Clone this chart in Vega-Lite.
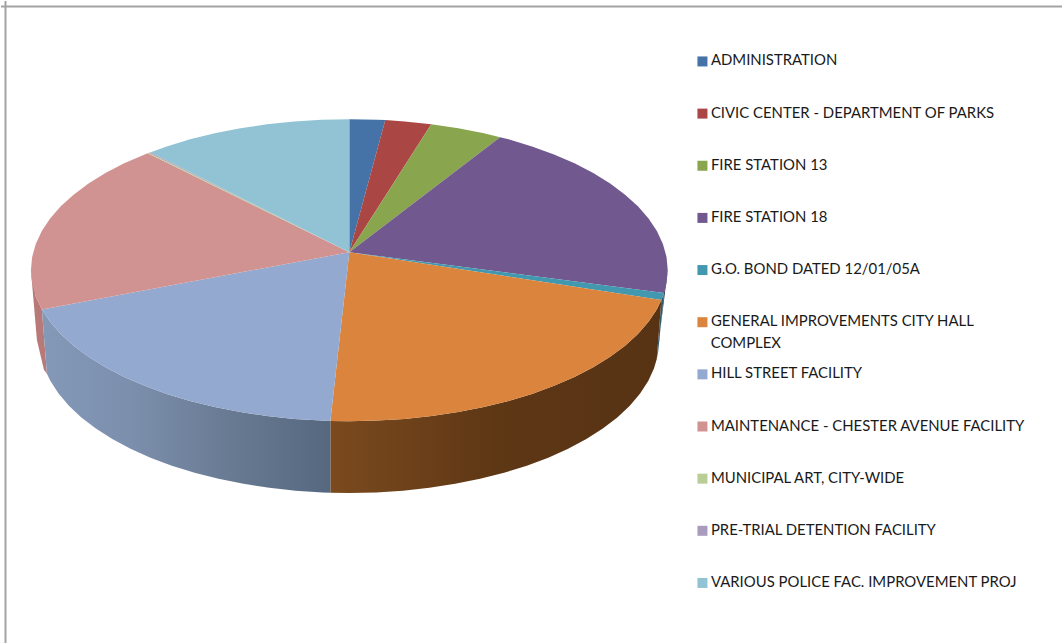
{"$schema":"https://vega.github.io/schema/vega-lite/v6.json","width":1063,"height":644,"autosize":{"type":"fit","contains":"padding"},"padding":0,"background":"white","config":{"view":{"stroke":null},"font":"Lato"},
"layer":[
{"data":{"values":[{"frame":-1.0799}]},"mark":{"type":"rule","color":"#a3a3a3","strokeWidth":2},"encoding":{"x":{"field":"frame","type":"quantitative","axis":null,"scale":{"domain":[-1.094,2.2382],"nice":false,"zero":false}}}},
{"data":{"values":[{"frame":1.7459}]},"mark":{"type":"rule","color":"#a3a3a3","strokeWidth":2},"encoding":{"y":{"field":"frame","type":"quantitative","axis":null,"scale":{"domain":[-2.4686,1.7822],"nice":false,"zero":false}}}},
{"encoding":{"x":{"field":"x","type":"quantitative","axis":null,"scale":{"domain":[-1.094,2.2382],"nice":false,"zero":false}},"y":{"field":"y","type":"quantitative","axis":null,"scale":{"domain":[-2.4686,1.7822],"nice":false,"zero":false}},"order":{"field":"o","type":"ordinal"}},
"layer":[
{"data":{"values":[{"o":1,"x":-0.9655,"y":-0.2603},{"o":2,"x":-0.9848,"y":-0.1736},{"o":3,"x":-1,"y":0},{"o":4,"x":-0.9906,"y":-0.231},{"o":5,"x":-0.9812,"y":-0.462},{"o":6,"x":-0.9592,"y":-0.66},{"o":7,"x":-0.9498,"y":-0.6866}]},"mark":{"type":"line","filled":true,"fill":"#b87a78","stroke":null}},
{"data":{"values":[{"o":1,"x":1,"y":0},{"o":2,"x":0.9718,"y":-0.4752},{"o":3,"x":0.9694,"y":-0.545},{"o":4,"x":0.9884,"y":-0.152}]},"mark":{"type":"line","filled":true,"fill":"#1f2a45","stroke":null}},
{"data":{"values":[{"o":1,"x":0.9884,"y":-0.152},{"o":2,"x":0.9694,"y":-0.545},{"o":3,"x":0.9655,"y":-0.589},{"o":4,"x":0.98,"y":-0.198}]},"mark":{"type":"line","filled":true,"fill":"#2b5a6a","stroke":null}},
{"data":{"values":[{"o":1,"x":0.98,"y":-0.198},{"o":2,"x":0.9659,"y":-0.2588},{"o":3,"x":0.9397,"y":-0.342},{"o":4,"x":0.9063,"y":-0.4226},{"o":5,"x":0.866,"y":-0.5},{"o":6,"x":0.8192,"y":-0.5736},{"o":7,"x":0.766,"y":-0.6428},{"o":8,"x":0.7071,"y":-0.7071},{"o":9,"x":0.6428,"y":-0.766},{"o":10,"x":0.5736,"y":-0.8192},{"o":11,"x":0.5,"y":-0.866},{"o":12,"x":0.4226,"y":-0.9063},{"o":13,"x":0.342,"y":-0.9397},{"o":14,"x":0.2588,"y":-0.9659},{"o":15,"x":0.1736,"y":-0.9848},{"o":16,"x":0.0872,"y":-0.9962},{"o":17,"x":0,"y":-1},{"o":18,"x":-0.0596,"y":-0.9982},{"o":19,"x":-0.0596,"y":-1.4733},{"o":20,"x":0,"y":-1.4752},{"o":21,"x":0.0847,"y":-1.4714},{"o":22,"x":0.1687,"y":-1.46},{"o":23,"x":0.2515,"y":-1.4411},{"o":24,"x":0.3324,"y":-1.4149},{"o":25,"x":0.4107,"y":-1.3815},{"o":26,"x":0.4859,"y":-1.3412},{"o":27,"x":0.5574,"y":-1.2944},{"o":28,"x":0.6247,"y":-1.2412},{"o":29,"x":0.6872,"y":-1.1823},{"o":30,"x":0.7444,"y":-1.118},{"o":31,"x":0.7961,"y":-1.0488},{"o":32,"x":0.8416,"y":-0.9752},{"o":33,"x":0.8808,"y":-0.8978},{"o":34,"x":0.9132,"y":-0.8172},{"o":35,"x":0.9387,"y":-0.734},{"o":36,"x":0.957,"y":-0.6488},{"o":37,"x":0.9655,"y":-0.589}]},"mark":{"type":"line","filled":true,"stroke":null,"fill":{"gradient":"linear","x1":0,"x2":1,"y1":0,"y2":0,"stops":[{"offset":0,"color":"#7b4a1e"},{"offset":0.5,"color":"#5e3715"},{"offset":1,"color":"#573314"}]}}},
{"data":{"values":[{"o":1,"x":-0.9655,"y":-0.2603},{"o":2,"x":-0.9397,"y":-0.342},{"o":3,"x":-0.9063,"y":-0.4226},{"o":4,"x":-0.866,"y":-0.5},{"o":5,"x":-0.8192,"y":-0.5736},{"o":6,"x":-0.766,"y":-0.6428},{"o":7,"x":-0.7071,"y":-0.7071},{"o":8,"x":-0.6428,"y":-0.766},{"o":9,"x":-0.5736,"y":-0.8192},{"o":10,"x":-0.5,"y":-0.866},{"o":11,"x":-0.4226,"y":-0.9063},{"o":12,"x":-0.342,"y":-0.9397},{"o":13,"x":-0.2588,"y":-0.9659},{"o":14,"x":-0.1736,"y":-0.9848},{"o":15,"x":-0.0872,"y":-0.9962},{"o":16,"x":-0.0596,"y":-0.9982},{"o":17,"x":-0.0596,"y":-1.4733},{"o":18,"x":-0.0847,"y":-1.4714},{"o":19,"x":-0.1687,"y":-1.46},{"o":20,"x":-0.2515,"y":-1.4411},{"o":21,"x":-0.3324,"y":-1.4149},{"o":22,"x":-0.4107,"y":-1.3815},{"o":23,"x":-0.4859,"y":-1.3412},{"o":24,"x":-0.5574,"y":-1.2944},{"o":25,"x":-0.6247,"y":-1.2412},{"o":26,"x":-0.6872,"y":-1.1823},{"o":27,"x":-0.7444,"y":-1.118},{"o":28,"x":-0.7961,"y":-1.0488},{"o":29,"x":-0.8416,"y":-0.9752},{"o":30,"x":-0.8808,"y":-0.8978},{"o":31,"x":-0.9132,"y":-0.8172},{"o":32,"x":-0.9387,"y":-0.734},{"o":33,"x":-0.9498,"y":-0.6866}]},"mark":{"type":"line","filled":true,"stroke":null,"fill":{"gradient":"linear","x1":0,"x2":1,"y1":0,"y2":0,"stops":[{"offset":0,"color":"#8498b8"},{"offset":0.3,"color":"#7c8fad"},{"offset":0.7,"color":"#66788f"},{"offset":1,"color":"#566880"}]}}},
{"data":{"values":[
{"c":"ADMINISTRATION","o":1,"x":0,"y":0.1188},{"c":"ADMINISTRATION","o":2,"x":0,"y":1},{"c":"ADMINISTRATION","o":3,"x":0.0872,"y":0.9962},{"c":"ADMINISTRATION","o":4,"x":0.1129,"y":0.9936},
{"c":"CIVIC CENTER - DEPARTMENT OF PARKS","o":1,"x":0,"y":0.1188},{"c":"CIVIC CENTER - DEPARTMENT OF PARKS","o":2,"x":0.1129,"y":0.9936},{"c":"CIVIC CENTER - DEPARTMENT OF PARKS","o":3,"x":0.1736,"y":0.9848},{"c":"CIVIC CENTER - DEPARTMENT OF PARKS","o":4,"x":0.2571,"y":0.9664},
{"c":"FIRE STATION 13","o":1,"x":0,"y":0.1188},{"c":"FIRE STATION 13","o":2,"x":0.2571,"y":0.9664},{"c":"FIRE STATION 13","o":3,"x":0.342,"y":0.9397},{"c":"FIRE STATION 13","o":4,"x":0.4226,"y":0.9063},{"c":"FIRE STATION 13","o":5,"x":0.4734,"y":0.8808},
{"c":"FIRE STATION 18","o":1,"x":0,"y":0.1188},{"c":"FIRE STATION 18","o":2,"x":0.4734,"y":0.8808},{"c":"FIRE STATION 18","o":3,"x":0.5,"y":0.866},{"c":"FIRE STATION 18","o":4,"x":0.5736,"y":0.8192},{"c":"FIRE STATION 18","o":5,"x":0.6428,"y":0.766},{"c":"FIRE STATION 18","o":6,"x":0.7071,"y":0.7071},{"c":"FIRE STATION 18","o":7,"x":0.766,"y":0.6428},{"c":"FIRE STATION 18","o":8,"x":0.8192,"y":0.5736},{"c":"FIRE STATION 18","o":9,"x":0.866,"y":0.5},{"c":"FIRE STATION 18","o":10,"x":0.9063,"y":0.4226},{"c":"FIRE STATION 18","o":11,"x":0.9397,"y":0.342},{"c":"FIRE STATION 18","o":12,"x":0.9659,"y":0.2588},{"c":"FIRE STATION 18","o":13,"x":0.9848,"y":0.1736},{"c":"FIRE STATION 18","o":14,"x":0.9962,"y":0.0872},{"c":"FIRE STATION 18","o":15,"x":1,"y":0},{"c":"FIRE STATION 18","o":16,"x":0.9962,"y":-0.0872},{"c":"FIRE STATION 18","o":17,"x":0.9884,"y":-0.152},
{"c":"G.O. BOND DATED 12/01/05A","o":1,"x":0,"y":0.1188},{"c":"G.O. BOND DATED 12/01/05A","o":2,"x":0.9884,"y":-0.152},{"c":"G.O. BOND DATED 12/01/05A","o":3,"x":0.98,"y":-0.198},
{"c":"GENERAL IMPROVEMENTS CITY HALL COMPLEX","o":1,"x":0,"y":0.1188},{"c":"GENERAL IMPROVEMENTS CITY HALL COMPLEX","o":2,"x":0.98,"y":-0.198},{"c":"GENERAL IMPROVEMENTS CITY HALL COMPLEX","o":3,"x":0.9659,"y":-0.2588},{"c":"GENERAL IMPROVEMENTS CITY HALL COMPLEX","o":4,"x":0.9397,"y":-0.342},{"c":"GENERAL IMPROVEMENTS CITY HALL COMPLEX","o":5,"x":0.9063,"y":-0.4226},{"c":"GENERAL IMPROVEMENTS CITY HALL COMPLEX","o":6,"x":0.866,"y":-0.5},{"c":"GENERAL IMPROVEMENTS CITY HALL COMPLEX","o":7,"x":0.8192,"y":-0.5736},{"c":"GENERAL IMPROVEMENTS CITY HALL COMPLEX","o":8,"x":0.766,"y":-0.6428},{"c":"GENERAL IMPROVEMENTS CITY HALL COMPLEX","o":9,"x":0.7071,"y":-0.7071},{"c":"GENERAL IMPROVEMENTS CITY HALL COMPLEX","o":10,"x":0.6428,"y":-0.766},{"c":"GENERAL IMPROVEMENTS CITY HALL COMPLEX","o":11,"x":0.5736,"y":-0.8192},{"c":"GENERAL IMPROVEMENTS CITY HALL COMPLEX","o":12,"x":0.5,"y":-0.866},{"c":"GENERAL IMPROVEMENTS CITY HALL COMPLEX","o":13,"x":0.4226,"y":-0.9063},{"c":"GENERAL IMPROVEMENTS CITY HALL COMPLEX","o":14,"x":0.342,"y":-0.9397},{"c":"GENERAL IMPROVEMENTS CITY HALL COMPLEX","o":15,"x":0.2588,"y":-0.9659},{"c":"GENERAL IMPROVEMENTS CITY HALL COMPLEX","o":16,"x":0.1736,"y":-0.9848},{"c":"GENERAL IMPROVEMENTS CITY HALL COMPLEX","o":17,"x":0.0872,"y":-0.9962},{"c":"GENERAL IMPROVEMENTS CITY HALL COMPLEX","o":18,"x":0,"y":-1},{"c":"GENERAL IMPROVEMENTS CITY HALL COMPLEX","o":19,"x":-0.0596,"y":-0.9982},
{"c":"HILL STREET FACILITY","o":1,"x":0,"y":0.1188},{"c":"HILL STREET FACILITY","o":2,"x":-0.0596,"y":-0.9982},{"c":"HILL STREET FACILITY","o":3,"x":-0.0872,"y":-0.9962},{"c":"HILL STREET FACILITY","o":4,"x":-0.1736,"y":-0.9848},{"c":"HILL STREET FACILITY","o":5,"x":-0.2588,"y":-0.9659},{"c":"HILL STREET FACILITY","o":6,"x":-0.342,"y":-0.9397},{"c":"HILL STREET FACILITY","o":7,"x":-0.4226,"y":-0.9063},{"c":"HILL STREET FACILITY","o":8,"x":-0.5,"y":-0.866},{"c":"HILL STREET FACILITY","o":9,"x":-0.5736,"y":-0.8192},{"c":"HILL STREET FACILITY","o":10,"x":-0.6428,"y":-0.766},{"c":"HILL STREET FACILITY","o":11,"x":-0.7071,"y":-0.7071},{"c":"HILL STREET FACILITY","o":12,"x":-0.766,"y":-0.6428},{"c":"HILL STREET FACILITY","o":13,"x":-0.8192,"y":-0.5736},{"c":"HILL STREET FACILITY","o":14,"x":-0.866,"y":-0.5},{"c":"HILL STREET FACILITY","o":15,"x":-0.9063,"y":-0.4226},{"c":"HILL STREET FACILITY","o":16,"x":-0.9397,"y":-0.342},{"c":"HILL STREET FACILITY","o":17,"x":-0.9655,"y":-0.2603},
{"c":"MAINTENANCE - CHESTER AVENUE FACILITY","o":1,"x":0,"y":0.1188},{"c":"MAINTENANCE - CHESTER AVENUE FACILITY","o":2,"x":-0.9655,"y":-0.2603},{"c":"MAINTENANCE - CHESTER AVENUE FACILITY","o":3,"x":-0.9848,"y":-0.1736},{"c":"MAINTENANCE - CHESTER AVENUE FACILITY","o":4,"x":-0.9962,"y":-0.0872},{"c":"MAINTENANCE - CHESTER AVENUE FACILITY","o":5,"x":-1,"y":0},{"c":"MAINTENANCE - CHESTER AVENUE FACILITY","o":6,"x":-0.9962,"y":0.0872},{"c":"MAINTENANCE - CHESTER AVENUE FACILITY","o":7,"x":-0.9848,"y":0.1736},{"c":"MAINTENANCE - CHESTER AVENUE FACILITY","o":8,"x":-0.9659,"y":0.2588},{"c":"MAINTENANCE - CHESTER AVENUE FACILITY","o":9,"x":-0.9397,"y":0.342},{"c":"MAINTENANCE - CHESTER AVENUE FACILITY","o":10,"x":-0.9063,"y":0.4226},{"c":"MAINTENANCE - CHESTER AVENUE FACILITY","o":11,"x":-0.866,"y":0.5},{"c":"MAINTENANCE - CHESTER AVENUE FACILITY","o":12,"x":-0.8192,"y":0.5736},{"c":"MAINTENANCE - CHESTER AVENUE FACILITY","o":13,"x":-0.766,"y":0.6428},{"c":"MAINTENANCE - CHESTER AVENUE FACILITY","o":14,"x":-0.7071,"y":0.7071},{"c":"MAINTENANCE - CHESTER AVENUE FACILITY","o":15,"x":-0.6428,"y":0.766},{"c":"MAINTENANCE - CHESTER AVENUE FACILITY","o":16,"x":-0.6332,"y":0.774},
{"c":"MUNICIPAL ART, CITY-WIDE","o":1,"x":0,"y":0.1188},{"c":"MUNICIPAL ART, CITY-WIDE","o":2,"x":-0.6332,"y":0.774},{"c":"MUNICIPAL ART, CITY-WIDE","o":3,"x":-0.6285,"y":0.7778},
{"c":"PRE-TRIAL DETENTION FACILITY","o":1,"x":0,"y":0.1188},{"c":"PRE-TRIAL DETENTION FACILITY","o":2,"x":-0.6285,"y":0.7778},{"c":"PRE-TRIAL DETENTION FACILITY","o":3,"x":-0.6238,"y":0.7815},
{"c":"VARIOUS POLICE FAC. IMPROVEMENT PROJ","o":1,"x":0,"y":0.1188},{"c":"VARIOUS POLICE FAC. IMPROVEMENT PROJ","o":2,"x":-0.6238,"y":0.7815},{"c":"VARIOUS POLICE FAC. IMPROVEMENT PROJ","o":3,"x":-0.5736,"y":0.8192},{"c":"VARIOUS POLICE FAC. IMPROVEMENT PROJ","o":4,"x":-0.5,"y":0.866},{"c":"VARIOUS POLICE FAC. IMPROVEMENT PROJ","o":5,"x":-0.4226,"y":0.9063},{"c":"VARIOUS POLICE FAC. IMPROVEMENT PROJ","o":6,"x":-0.342,"y":0.9397},{"c":"VARIOUS POLICE FAC. IMPROVEMENT PROJ","o":7,"x":-0.2588,"y":0.9659},{"c":"VARIOUS POLICE FAC. IMPROVEMENT PROJ","o":8,"x":-0.1736,"y":0.9848},{"c":"VARIOUS POLICE FAC. IMPROVEMENT PROJ","o":9,"x":-0.0872,"y":0.9962},{"c":"VARIOUS POLICE FAC. IMPROVEMENT PROJ","o":10,"x":0,"y":1}
]},"mark":{"type":"line","filled":true},"encoding":{"color":{"field":"c","type":"nominal","scale":{"domain":["ADMINISTRATION","CIVIC CENTER - DEPARTMENT OF PARKS","FIRE STATION 13","FIRE STATION 18","G.O. BOND DATED 12/01/05A","GENERAL IMPROVEMENTS CITY HALL COMPLEX","HILL STREET FACILITY","MAINTENANCE - CHESTER AVENUE FACILITY","MUNICIPAL ART, CITY-WIDE","PRE-TRIAL DETENTION FACILITY","VARIOUS POLICE FAC. IMPROVEMENT PROJ"],"range":["#4572A7","#AA4643","#89A54E","#71588F","#4198AF","#DB843D","#93A9CF","#D19392","#B9CD96","#A99BBD","#92C3D5"]},"legend":{"orient":"none","legendX":694,"legendY":53,"title":null,"symbolType":"square","symbolSize":100,"symbolStrokeWidth":0,"labelFont":"Lato","labelFontSize":14.9,"labelColor":"#1a1a1a","labelLimit":400,"labelOffset":1,"rowPadding":36.15,"padding":0,"labelExpr":"datum.label == 'GENERAL IMPROVEMENTS CITY HALL COMPLEX' ? 'GENERAL IMPROVEMENTS CITY HALL' : datum.label"}}}},
{"data":{"values":[{"o":1,"label":"COMPLEX","x":1.1348,"y":-0.49}]},"mark":{"type":"text","align":"left","baseline":"middle","font":"Lato","fontSize":14.9,"color":"#1a1a1a"},"encoding":{"text":{"field":"label","type":"nominal"}}}
]}
]}
